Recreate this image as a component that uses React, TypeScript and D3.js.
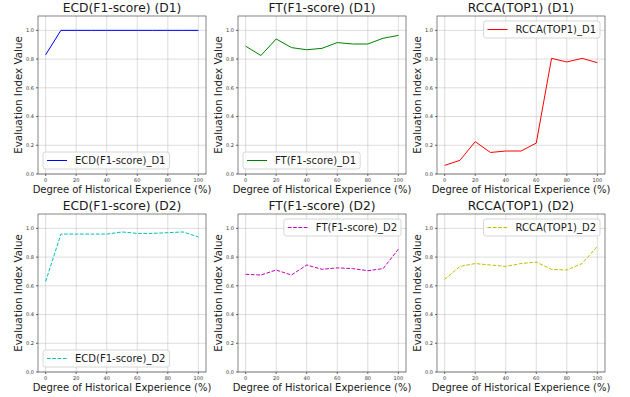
import * as d3 from "d3";

const xValues = [0, 10, 20, 30, 40, 50, 60, 70, 80, 90, 100];
const ecdD1 = [0.83, 1.0, 1.0, 1.0, 1.0, 1.0, 1.0, 1.0, 1.0, 1.0, 1.0];
const ftD1 = [0.89, 0.825, 0.94, 0.88, 0.865, 0.875, 0.915, 0.905, 0.905, 0.945, 0.965];
const rccaD1 = [0.06, 0.095, 0.225, 0.15, 0.16, 0.16, 0.215, 0.805, 0.78, 0.805, 0.775];
const ecdD2 = [0.63, 0.96, 0.96, 0.96, 0.96, 0.975, 0.965, 0.965, 0.97, 0.975, 0.94];
const ftD2 = [0.68, 0.675, 0.71, 0.675, 0.745, 0.715, 0.725, 0.72, 0.705, 0.72, 0.855];
const rccaD2 = [0.645, 0.735, 0.755, 0.745, 0.735, 0.755, 0.765, 0.715, 0.71, 0.755, 0.875];

const xTicks = [0, 20, 40, 60, 80, 100];
const yTicks = [0, 0.2, 0.4, 0.6, 0.8, 1.0];

type Panel = {
  title: string;
  label: string;
  values: number[];
  color: string;
  dashed: boolean;
  legendTop: boolean;
};

const panels: Panel[] = [
  { title: "ECD(F1-score) (D1)", label: "ECD(F1-score)_D1", values: ecdD1, color: "#0000ff", dashed: false, legendTop: false },
  { title: "FT(F1-score) (D1)", label: "FT(F1-score)_D1", values: ftD1, color: "#008000", dashed: false, legendTop: false },
  { title: "RCCA(TOP1) (D1)", label: "RCCA(TOP1)_D1", values: rccaD1, color: "#ff0000", dashed: false, legendTop: true },
  { title: "ECD(F1-score) (D2)", label: "ECD(F1-score)_D2", values: ecdD2, color: "#00bfbf", dashed: true, legendTop: false },
  { title: "FT(F1-score) (D2)", label: "FT(F1-score)_D2", values: ftD2, color: "#bf00bf", dashed: true, legendTop: true },
  { title: "RCCA(TOP1) (D2)", label: "RCCA(TOP1)_D2", values: rccaD2, color: "#bfbf00", dashed: true, legendTop: true },
];

const width = 630;
const height = 397;
const colLeft = [38, 238, 437];
const rowTop = [16, 214];
const axW = 168;
const axH = 158;
const font = "DejaVu Sans, sans-serif";
const textColor = "#1a1a1a";
const legendSize = 10;

let measureCtx: CanvasRenderingContext2D | null = null;
function textWidth(text: string, size: number) {
  if (!measureCtx) measureCtx = document.createElement("canvas").getContext("2d");
  if (!measureCtx) return text.length * size * 0.6;
  measureCtx.font = `${size}px DejaVu Sans`;
  return measureCtx.measureText(text).width;
}

function Axes({ panel, left, top }: { panel: Panel; left: number; top: number }) {
  const x = d3.scaleLinear().domain([-5, 105]).range([0, axW]);
  const y = d3.scaleLinear().domain([0, 1.1]).range([axH, 0]);
  const line = d3
    .line<number>()
    .x((_, i) => x(xValues[i]))
    .y((v) => y(v))(panel.values);

  // matplotlib-ish legend spacing: handle 2em, textpad 0.8em, borderpad 0.4em
  const legW = textWidth(panel.label, legendSize) + 3.6 * legendSize;
  const legH = 17;
  const legX = panel.legendTop ? axW - legW - 5 : 5;
  const legY = panel.legendTop ? 5 : axH - legH - 5;
  const dash = panel.dashed ? "3.7 1.6" : undefined;

  return (
    <g transform={`translate(${left}, ${top})`}>
      <text x={axW / 2} y={-4} textAnchor="middle" fontSize={12.3} fill={textColor}>{panel.title}</text>
      {xTicks.map((t) => (
        <g key={`x-${t}`} transform={`translate(${x(t)}, 0)`}>
          <line y1={0} y2={axH} stroke="#b0b0b0" strokeOpacity={0.55} strokeWidth={0.8} />
          <line y1={axH} y2={axH + 2} stroke="#000" strokeWidth={0.6} />
          <text y={axH + 7.5} textAnchor="middle" fontSize={5} fill="#333">{t}</text>
        </g>
      ))}
      {yTicks.map((t) => (
        <g key={`y-${t}`} transform={`translate(0, ${y(t)})`}>
          <line x1={0} x2={axW} stroke="#b0b0b0" strokeOpacity={0.55} strokeWidth={0.8} />
          <line x1={-2} x2={0} stroke="#000" strokeWidth={0.6} />
          <text x={-4} y={1.8} textAnchor="end" fontSize={5} fill="#333">{t.toFixed(1)}</text>
        </g>
      ))}
      {line ? <path d={line} fill="none" stroke={panel.color} strokeWidth={1} strokeDasharray={dash} /> : null}
      <rect x={0} y={0} width={axW} height={axH} fill="none" stroke="#333" strokeWidth={0.6} />
      <g transform={`translate(${legX}, ${legY})`}>
        <rect width={legW} height={legH} rx={2.5} fill="#fff" fillOpacity={0.8} stroke="#cccccc" strokeWidth={0.8} />
        <line x1={4} x2={4 + 2 * legendSize} y1={legH / 2} y2={legH / 2} stroke={panel.color} strokeWidth={1} strokeDasharray={dash} />
        <text x={4 + 2.8 * legendSize} y={legH / 2 + 3.6} fontSize={legendSize} fill={textColor}>{panel.label}</text>
      </g>
      <text x={axW / 2} y={axH + 19} textAnchor="middle" fontSize={10} fill={textColor}>Degree of Historical Experience (%)</text>
      <text transform={`translate(-16, ${axH / 2}) rotate(-90)`} textAnchor="middle" fontSize={10.3} fill={textColor}>Evaluation Index Value</text>
    </g>
  );
}

export default function App() {
  return (
    <svg width={width} height={height} style={{ position: "absolute", left: 0, top: 0, fontFamily: font, background: "#fff" }}>
      <rect width={width} height={height} fill="#fff" />
      {panels.map((p, i) => (
        <Axes key={p.label} panel={p} left={colLeft[i % 3]} top={rowTop[Math.floor(i / 3)]} />
      ))}
    </svg>
  );
}
